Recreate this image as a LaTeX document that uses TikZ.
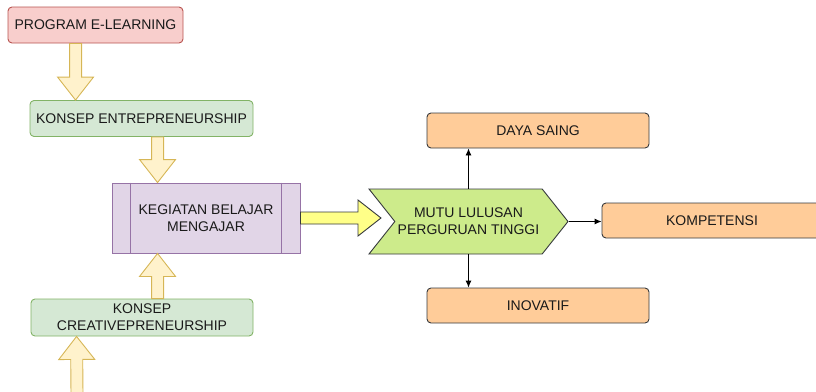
\documentclass[tikz,border=0pt]{standalone}
\usepackage{fontspec}
\setmainfont{Liberation Sans}
\usetikzlibrary{calc,shapes.symbols,arrows.meta}

\definecolor{redfill}{HTML}{F8CECC}
\definecolor{redline}{HTML}{B85450}
\definecolor{greenfill}{HTML}{D5E8D4}
\definecolor{greenline}{HTML}{82B366}
\definecolor{purplefill}{HTML}{E1D5E7}
\definecolor{purpleline}{HTML}{9673A6}
\definecolor{orangefill}{HTML}{FFCC99}
\definecolor{darkline}{HTML}{36393D}
\definecolor{limefill}{HTML}{CDEB8B}
\definecolor{creamfill}{HTML}{FFF2CC}
\definecolor{creamline}{HTML}{D6B656}
\definecolor{yellowfill}{HTML}{FFFF88}
\definecolor{txt}{HTML}{1A1A1A}

% fat block arrow from #2 (tail) to #3 (tip)
\newcommand{\fatarrow}[3][]{%
  \filldraw[line width=0.9pt,line join=miter,#1]
    ($(#2)!6pt!90:(#3)$) -- ($(#3)!23pt!(#2)!6pt!90:(#3)$)
    -- ($(#3)!23pt!(#2)!18pt!90:(#3)$) -- (#3)
    -- ($(#3)!23pt!(#2)!18pt!-90:(#3)$) -- ($(#3)!23pt!(#2)!6pt!-90:(#3)$)
    -- ($(#2)!6pt!-90:(#3)$) -- cycle;}

\tikzset{
  box/.style={draw,rounded corners=4pt,line width=0.9pt,inner sep=0pt,
    align=center,text=txt,font=\fontsize{14}{17}\selectfont},
  redbox/.style={box,fill=redfill,draw=redline},
  greenbox/.style={box,fill=greenfill,draw=greenline},
  orangebox/.style={box,fill=orangefill,draw=darkline},
  procbox/.style={box,rounded corners=0pt,fill=purplefill,draw=purpleline},
  chevron/.style={box,rounded corners=0pt,shape=signal,signal to=east,
    signal from=west,signal pointer angle=103,fill=limefill,draw=darkline},
  cream/.style={fill=creamfill,draw=creamline},
  bright/.style={fill=yellowfill,draw=darkline},
  link/.style={->,line width=0.9pt,draw=black},
}

\begin{document}
\begin{tikzpicture}[x=1pt,y=-1pt,>={Latex[length=7pt,width=6pt]}]
  \useasboundingbox (0,0) rectangle (816,391);
  % left column
  \node[redbox,minimum width=175pt,minimum height=36pt] (pel) at (95.5,25) {PROGRAM E-LEARNING};
  \node[greenbox,minimum width=223pt,minimum height=36pt] (ent) at (141.5,118.5) {KONSEP ENTREPRENEURSHIP};
  \node[procbox,minimum width=188pt,minimum height=70pt] (kbm) at (206,218) {KEGIATAN BELAJAR\\MENGAJAR};
  \node[greenbox,minimum width=222pt,minimum height=37pt] (cre) at (142,317.5) {KONSEP\\CREATIVEPRENEURSHIP};
  \draw[purpleline,line width=0.9pt] ($(kbm.north west)+(19,0)$) -- ($(kbm.south west)+(19,0)$);
  \draw[purpleline,line width=0.9pt] ($(kbm.north east)+(-19,0)$) -- ($(kbm.south east)+(-19,0)$);
  % right part
  \node[chevron,minimum width=199pt,minimum height=65pt] (mutu) at (468.5,221.5) {MUTU LULUSAN\\PERGURUAN TINGGI};
  \node[orangebox,minimum width=222pt,minimum height=35pt] (daya) at (538,130.5) {DAYA SAING};
  \node[orangebox,minimum width=220pt,minimum height=35pt] (komp) at (712,220.5) {KOMPETENSI};
  \node[orangebox,minimum width=222pt,minimum height=35pt] (inov) at (538,305.5) {INOVATIF};
  % block arrows
  \coordinate (a1) at ($(pel.south west)+(68,0)$);
  \coordinate (b1) at ($(ent.north west)+(46,0)$);
  \coordinate (a2) at ($(ent.south west)+(128,0)$);
  \coordinate (b2) at ($(kbm.north west)+(46,0)$);
  \coordinate (a3) at ($(cre.north west)+(127,0)$);
  \coordinate (b3) at ($(kbm.south west)+(46,0)$);
  \coordinate (a4) at (77,395);
  \coordinate (b4) at ($(cre.south west)+(46,0)$);
  \coordinate (b5) at (381,218);
  \fatarrow[cream]{a1}{b1}
  \fatarrow[cream]{a2}{b2}
  \fatarrow[cream]{a3}{b3}
  \fatarrow[cream]{a4}{b4}
  \fatarrow[bright]{kbm.east}{b5}
  % links
  \draw[link] (mutu.north) -- (mutu.north |- daya.south);
  \draw[link] (mutu.south) -- (mutu.south |- inov.north);
  \draw[link] (mutu.east) -- (mutu.east -| komp.west);
\end{tikzpicture}
\end{document}
